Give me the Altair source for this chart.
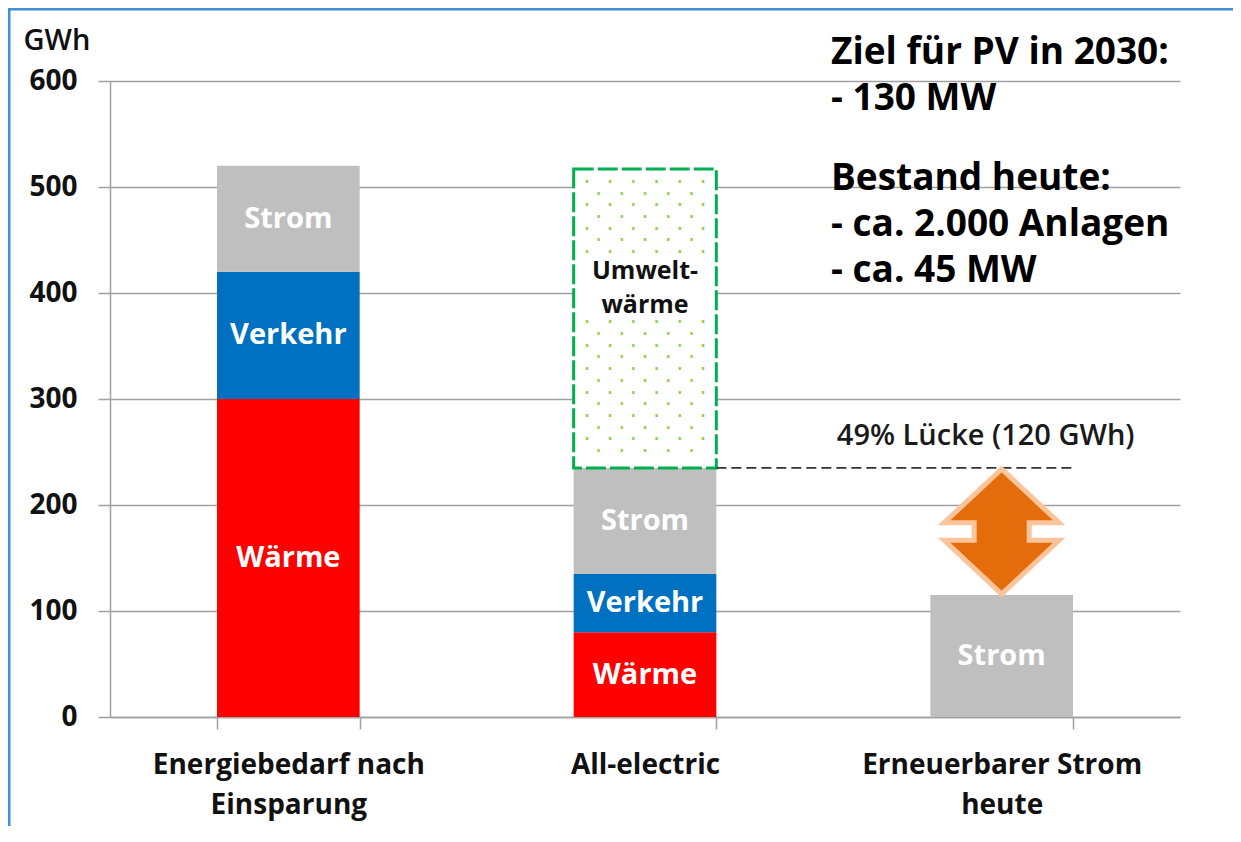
import altair as alt
import pandas as pd

# ---------------- data ----------------
categories = ["Energiebedarf nach\nEinsparung", "All-electric", "Erneuerbarer Strom\nheute"]
segments = ["Wärme", "Verkehr", "Strom"]
segment_colors = ["#FF0000", "#0070C0", "#BFBFBF"]
waerme = [300, 80, 0]
verkehr = [120, 55, 0]
strom = [100, 100, 115]

umwelt_category = "All-electric"
umwelt_from = 235
umwelt_to = 517
umwelt_label = ["Umwelt-", "wärme"]

y_ticks = [0, 100, 200, 300, 400, 500, 600]

gap_from_category = "All-electric"
gap_to_category = "Erneuerbarer Strom\nheute"
gap_top = 235
gap_bottom = 115
gap_label = "49% Lücke (120 GWh)"

notes_block1 = ["Ziel für PV in 2030:", "- 130 MW"]
notes_block2 = ["Bestand heute:", "- ca. 2.000 Anlagen", "- ca. 45 MW"]

# ---------------- tables ----------------
rows = []
for i, cat in enumerate(categories):
    start = 0
    for seg, val in zip(segments, [waerme[i], verkehr[i], strom[i]]):
        if val > 0:
            rows.append({"cat": cat, "seg": seg, "start": start, "end": start + val,
                         "mid": start + val / 2})
            start += val
bars_df = pd.DataFrame(rows)

umwelt_df = pd.DataFrame([{"cat": umwelt_category, "start": umwelt_from, "end": umwelt_to,
                           "mid": (umwelt_from + umwelt_to) / 2, "label": umwelt_label}])

# dotted fill texture of the "Umweltwärme" box (staggered rows, cleared behind the label)
ROW_A = "· · · · · ·"
ROW_B = "· · · · ·"
dots_upper = [ROW_A if r % 2 == 0 else ROW_B for r in range(0, 7)]
dots_lower = [ROW_A if r % 2 == 0 else ROW_B for r in range(12, 24)]
dots_df = pd.DataFrame([{"cat": umwelt_category, "end": umwelt_to,
                         "upper": dots_upper, "lower": dots_lower}])

gap_df = pd.DataFrame([{"c1": gap_from_category, "c2": gap_to_category, "y": gap_top,
                        "ymid": (gap_top + gap_bottom) / 2, "label": gap_label}])

# ---------------- styling ----------------
UI = "Open Sans"
GRID = "#A0A0A0"

xscale = alt.Scale(domain=categories, paddingInner=0.6, paddingOuter=0.3)
yscale = alt.Scale(domain=[0, 600], nice=False)

xaxis = alt.Axis(title=None, labelAngle=0, labelExpr="split(datum.label, '\\n')",
                 tickBand="extent", tickSize=12, tickColor=GRID, tickWidth=1.5,
                 domainColor=GRID, domainWidth=1.5, labelFont=UI,
                 labelFontSize=28, labelFontWeight="bold", labelColor="#111111",
                 labelLineHeight=40, labelPadding=22, labelBaseline="top", labelLimit=0,
                 grid=False)
yaxis = alt.Axis(title="GWh", values=y_ticks, grid=True, gridColor=GRID, gridWidth=1.5,
                 tickSize=12, tickColor=GRID, tickWidth=1.5, domainColor=GRID,
                 domainWidth=1.5, labelFont=UI, labelFontSize=28, labelFontWeight="bold",
                 labelColor="#111111", labelPadding=21, titleAngle=0, titleAlign="left",
                 titleBaseline="middle", titleX=-87, titleY=-41, titleFont=UI,
                 titleFontSize=29, titleFontWeight=600, titleColor="#111111")


def X(field="cat"):
    return alt.X(f"{field}:N", scale=xscale, axis=xaxis, sort=categories)


def Y(field):
    return alt.Y(f"{field}:Q", scale=yscale, axis=yaxis)


bars = alt.Chart(bars_df).mark_bar().encode(
    x=X(), y=Y("start"), y2="end",
    color=alt.Color("seg:N", scale=alt.Scale(domain=segments, range=segment_colors),
                    legend=None),
)

bar_labels = alt.Chart(bars_df).mark_text(
    color="white", font=UI, fontWeight="bold", fontSize=29
).encode(x=X(), y=Y("mid"), text="seg:N")

umwelt_bar = alt.Chart(umwelt_df).mark_bar(
    fill="white", stroke="#00B050", strokeWidth=3, strokeDash=[20, 4]
).encode(x=X(), y=Y("start"), y2="end")

DOT_STYLE = dict(font="DejaVu Sans Mono", fontSize=19.3, lineHeight=11.7,
                 color="#92D050", align="center", baseline="middle")
dots_up = alt.Chart(dots_df).mark_text(dy=13, **DOT_STYLE).encode(
    x=X(), y=Y("end"), text="upper")
dots_low = alt.Chart(dots_df).mark_text(dy=13 + 12 * 11.7, **DOT_STYLE).encode(
    x=X(), y=Y("end"), text="lower")

umwelt_text = alt.Chart(umwelt_df).mark_text(
    font=UI, fontWeight="bold", fontSize=25, lineHeight=34, color="#111111",
    baseline="middle", dy=-47
).encode(x=X(), y=Y("mid"), text="label")

gap_rule = alt.Chart(gap_df).mark_rule(
    color="#333333", strokeWidth=1.6, strokeDash=[10, 5]
).encode(
    x=alt.X("c1:N", scale=xscale, axis=xaxis, sort=categories, bandPosition=1),
    x2=alt.X2("c2", bandPosition=1),
    y=Y("y"),
)

gap_text = alt.Chart(gap_df).mark_text(
    font=UI, fontWeight=600, fontSize=29, color="#1A1A1A", dx=-16, dy=-32
).encode(x=X("c2"), y=Y("y"), text="label")

ARROW = ("M0,-1L0.92,-0.14L0.44,-0.14L0.44,0.14L0.92,0.14L0,1L-0.92,0.14"
         "L-0.44,0.14L-0.44,-0.14L-0.92,-0.14Z")
arrow = alt.Chart(gap_df).mark_point(
    shape=ARROW, size=15625, filled=True, fill="#E46C0A", stroke="#FBC49A",
    strokeWidth=5, opacity=1, fillOpacity=1, strokeOpacity=1
).encode(x=X("c2"), y=Y("ymid"))

note_df = pd.DataFrame([{"t1": notes_block1, "t2": notes_block2}])
note1 = alt.Chart(note_df).mark_text(
    font=UI, fontWeight="bold", fontSize=37, lineHeight=46, color="#000000",
    align="left", baseline="middle"
).encode(x=alt.value(721), y=alt.value(-28), text="t1")
note2 = alt.Chart(note_df).mark_text(
    font=UI, fontWeight="bold", fontSize=37, lineHeight=46, color="#000000",
    align="left", baseline="middle"
).encode(x=alt.value(721), y=alt.value(98), text="t2")

border_left = alt.Chart(note_df).mark_rule(color="#3F8FDB", strokeWidth=2.5).encode(
    x=alt.value(-100.75), y=alt.value(-71.75), y2=alt.value(770))
border_top = alt.Chart(note_df).mark_rule(color="#3F8FDB", strokeWidth=2.5).encode(
    x=alt.value(-102), x2=alt.value(1130), y=alt.value(-71.75))

chart = alt.layer(
    bars, bar_labels, umwelt_bar, dots_up, dots_low, umwelt_text, gap_rule, gap_text,
    arrow, note1, note2, border_left, border_top
).properties(
    width=1070, height=636,
    padding={"left": 102, "top": 73, "right": 53, "bottom": 109},
    autosize=alt.AutoSizeParams(type="none"),
    background="white",
).configure_view(strokeWidth=0)

chart.save("out.html", embed_options={"renderer": "svg", "actions": False})
